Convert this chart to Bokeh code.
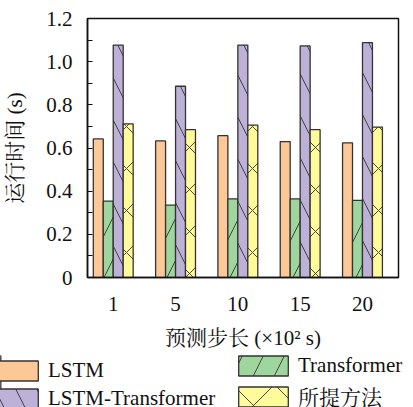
from bokeh.plotting import figure
from bokeh.layouts import column
from bokeh.models import Range1d, FixedTicker, Legend, LegendItem, ColumnDataSource
from bokeh.embed import file_html
from bokeh.resources import INLINE

# Run time (s) per prediction horizon (x100 s)
steps = ["1", "5", "10", "15", "20"]
lstm = [0.642, 0.633, 0.657, 0.630, 0.624]
transformer = [0.354, 0.335, 0.364, 0.364, 0.357]
lstm_transformer = [1.077, 0.886, 1.077, 1.073, 1.088]
proposed = [0.712, 0.685, 0.706, 0.685, 0.697]

series_names = ["LSTM", "Transformer", "LSTM-Transformer", "所提方法"]
series_values = [lstm, transformer, lstm_transformer, proposed]

y_ticks = [0, 0.2, 0.4, 0.6, 0.8, 1.0, 1.2]
y_tick_labels = ["0", "0.2", "0.4", "0.6", "0.8", "1.0", "1.2"]
y_minor = [0.1, 0.3, 0.5, 0.7, 0.9, 1.1]

fills = ["#FDC898", "#9FD69E", "#BEB1D7", "#FFFB9A"]
hatches = [" ", "/", "\\", "x"]
EDGE = "#333333"
INK = "#111111"
FONT = '"Liberation Serif", "Noto Serif CJK SC", "Noto Sans CJK SC", serif'


def bar_style(fc, hp):
    return dict(fill_color=fc, line_color=EDGE, line_width=1.3,
                hatch_pattern=hp, hatch_color=EDGE, hatch_weight=0.9,
                hatch_scale=42)


# ---- main bar chart ----
p = figure(width=413, height=355, output_backend="svg", toolbar_location=None,
           x_range=Range1d(-0.413, 4.578), y_range=Range1d(0, 1.2),
           min_border_left=87, min_border_right=15, min_border_top=18,
           min_border_bottom=78, frame_align=False)
p.background_fill_color = "white"
p.border_fill_color = "white"
p.grid.visible = False
p.outline_line_color = INK
p.outline_line_width = 1.5

bar_w = 0.16
offsets = [-1.5 * bar_w, -0.5 * bar_w, 0.5 * bar_w, 1.5 * bar_w]
idx = list(range(len(steps)))

for name, vals, off, fc, hp in zip(series_names, series_values, offsets, fills, hatches):
    src = ColumnDataSource(dict(x=[i + off for i in idx], top=vals))
    p.vbar(x="x", top="top", width=bar_w, source=src, **bar_style(fc, hp))

# x axis: step labels under each group, no tick marks
xa = p.xaxis[0]
xa.ticker = FixedTicker(ticks=idx)
xa.major_label_overrides = {i: s for i, s in zip(idx, steps)}
xa.major_tick_line_color = None
xa.minor_tick_line_color = None
xa.axis_line_color = INK
xa.axis_line_width = 1.5
xa.major_label_text_font = FONT
xa.major_label_text_font_size = "21px"
xa.major_label_text_color = INK
xa.major_label_standoff = 13
xa.axis_label = "预测步长 (×10² s)"
xa.axis_label_text_font = FONT
xa.axis_label_text_font_size = "21px"
xa.axis_label_text_font_style = "normal"
xa.axis_label_text_color = INK
xa.axis_label_standoff = 12

# y axis: inward ticks every 0.1
ya = p.yaxis[0]
ya.ticker = FixedTicker(ticks=y_ticks, minor_ticks=y_minor)
ya.major_label_overrides = {t: s for t, s in zip(y_ticks, y_tick_labels)}
ya.major_tick_in = 5
ya.major_tick_out = 0
ya.minor_tick_in = 5
ya.minor_tick_out = 0
ya.major_tick_line_color = INK
ya.minor_tick_line_color = INK
ya.major_tick_line_width = 1.2
ya.minor_tick_line_width = 1.2
ya.axis_line_color = INK
ya.axis_line_width = 1.5
ya.major_label_text_font = FONT
ya.major_label_text_font_size = "21px"
ya.major_label_text_color = INK
ya.major_label_standoff = 15
ya.axis_label = "运行时间 (s)"
ya.axis_label_text_font = FONT
ya.axis_label_text_font_size = "21px"
ya.axis_label_text_font_style = "normal"
ya.axis_label_text_color = INK
ya.axis_label_standoff = 16

# ---- legend strip below the chart ----
lg = figure(width=413, height=52, output_backend="svg", toolbar_location=None,
            x_axis_type=None, y_axis_type=None, min_border=0,
            min_border_left=0, min_border_right=0, min_border_top=0,
            min_border_bottom=0, frame_align=False,
            x_range=Range1d(0, 1), y_range=Range1d(0, 1))
lg.outline_line_color = None
lg.grid.visible = False

# key swatches: one bar each, parked outside the visible range of this strip
keys = []
for fc, hp in zip(fills, hatches):
    keys.append(lg.vbar(x="x", top="top", width=0.1,
                        source=ColumnDataSource(dict(x=[-5.0], top=[1.0])),
                        **bar_style(fc, hp)))


def make_legend(pairs, loc):
    return Legend(items=[LegendItem(label=series_names[k], renderers=[keys[k]]) for k in pairs],
                  location=loc, orientation="vertical",
                  glyph_width=62, glyph_height=25, label_standoff=4,
                  label_height=20, spacing=3, padding=0, margin=0,
                  border_line_color=None, background_fill_alpha=0,
                  label_text_font=FONT, label_text_font_size="21px",
                  label_text_color=INK)


lg.add_layout(make_legend([0, 2], (-18, -4)))
lg.add_layout(make_legend([1, 3], (232, -4)))

layout = column(p, lg, spacing=0)
open("out.html", "w").write(file_html(layout, INLINE))
